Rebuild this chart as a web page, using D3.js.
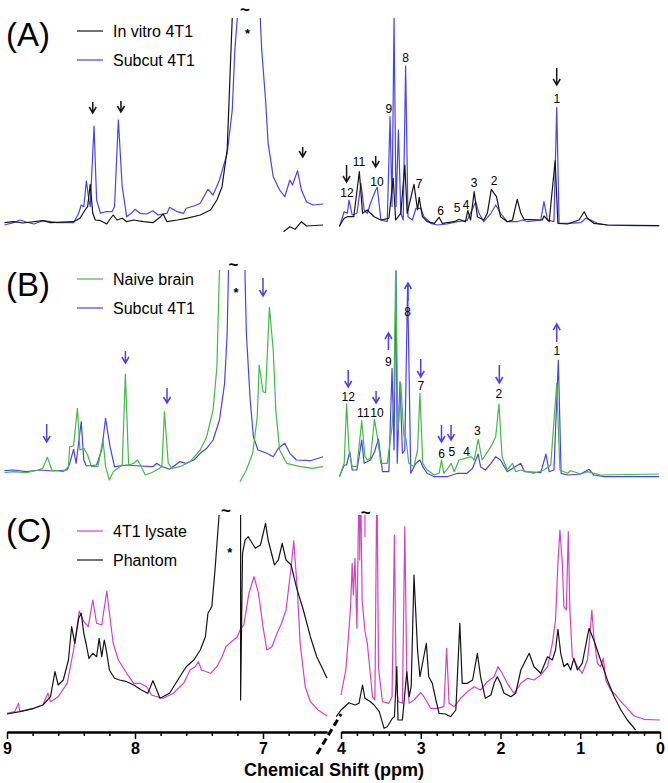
<!DOCTYPE html>
<html>
<head>
<meta charset="utf-8">
<script src="https://cdn.jsdelivr.net/npm/d3@7"></script>
<style>
  body { margin: 0; background: #fff; }
  svg { display: block; font-family: "Liberation Sans", Arial, Helvetica, sans-serif; }
</style>
</head>
<body>
<div id="chart"></div>
<script>
// ---- data: [ppm, intensity], null breaks a trace ----
const vitroA = [[9.02,3.3],[8.95,4.3],[8.875,3],[8.72,5.3],[8.66,3.3],[8.48,4.3],[8.43,7.7],[8.39,16],[8.37,19.3],[8.35,41.7],[8.33,12.7],[8.31,6],[8.27,5.3],[8.22,2],[8.20,6],[8.17,11],[8.14,6],[8.10,7.7],[8.065,4.3],[8.01,6],[7.935,4.3],[7.86,3.3],[7.80,9.3],[7.78,12],[7.75,4.3],[7.67,6],[7.60,7.7],[7.49,11],[7.41,16],[7.36,26],[7.32,39.3],[7.28,76],[7.26,142.7],[7.24,209],[7.235,260],
  null,[6.84,-5.7],[6.79,-0.7],[6.75,-3.3],[6.70,4.3],[6.66,0],[6.53,1],
  null,[4.02,0],[3.96,7.7],[3.92,9.3],[3.84,9.3],[3.77,54.3],[3.73,12.7],[3.67,16],[3.63,12.7],[3.585,9.3],[3.50,6],[3.40,7.7],[3.345,47.7],[3.315,6],[3.25,12.7],[3.20,61],[3.17,12.7],[3.085,41.7],[3.04,16],[3.02,28.7],[2.98,9.3],[2.92,4.3],[2.83,2.7],[2.77,8.7],[2.73,2.7],[2.58,4.3],[2.52,6.7],[2.44,4.3],[2.41,15.3],[2.375,6],[2.33,34.3],[2.29,9.3],[2.21,6],[2.165,12.7],[2.115,36.7],[2.08,32.7],[2.05,29.3],[2.00,9.3],[1.915,4.3],[1.85,6],[1.79,26.7],[1.745,12.7],[1.705,6.7],[1.475,6],[1.455,10],[1.39,4.3],[1.315,65.3],[1.28,2.7],[1.16,2],[1.015,6],[0.95,14.3],[0.91,7.7],[0.83,2.7],[0.66,1],[0.01,0.3]];

const subcutA = [[9.02,1],[8.95,3.3],[8.90,6],[8.85,4],[8.79,2],[8.72,5.3],[8.66,4.3],[8.61,3.3],[8.48,3.3],[8.44,12.7],[8.42,21],[8.40,19.3],[8.38,45],[8.36,26],[8.35,19.3],[8.32,100],[8.30,26],[8.27,12.7],[8.23,14.3],[8.18,14.3],[8.16,19.3],[8.13,106],[8.10,39.3],[8.065,9.3],[8.03,12.7],[8.00,16.7],[7.96,12.7],[7.91,12],[7.86,15.3],[7.82,11],[7.75,12.7],[7.73,18.7],[7.67,14.3],[7.62,12.7],[7.60,17.7],[7.54,20],[7.49,22.7],[7.43,36.7],[7.39,31],[7.34,46],[7.28,72.7],[7.24,116],[7.22,176],[7.20,209],[7.19,260],[7.03,260],[7.02,204],[7.01,176],[6.98,126],[6.96,82.7],[6.92,49.3],[6.87,36],[6.83,29.3],[6.79,46],[6.77,41],[6.73,55.3],[6.70,36],[6.66,24.3],[6.61,21],[6.53,22],
  null,[4.02,-0.7],[3.96,14.3],[3.92,12.7],[3.90,26],[3.86,11],[3.80,12.7],[3.75,42.7],[3.71,16],[3.67,12.7],[3.63,22.7],[3.565,36],[3.545,38.7],[3.50,6],[3.42,4.3],[3.385,109.3],[3.36,19.3],[3.335,207.7],[3.31,19.3],[3.28,96],[3.25,12.7],[3.22,6],[3.19,160],[3.16,9.3],[3.105,6],[3.06,17.7],[3.00,17.7],[2.96,9.3],[2.875,2.7],[2.79,1],[2.67,2],[2.54,4.3],[2.42,5.3],[2.31,24.3],[2.27,12.7],[2.21,4.3],[2.12,12.7],[2.06,21],[2.00,12.7],[1.915,4.3],[1.79,4.3],[1.725,6],[1.66,4.3],[1.495,6],[1.455,24.3],[1.41,6],[1.33,4.3],[1.295,118.7],[1.265,2.7],[1.16,2.7],[0.995,3.3],[0.93,7.7],[0.87,6],[0.785,2.7],[0.66,1],[0.33,0.3],[0.01,0.3]];

const brainB = [[9.02,3.3],[8.95,4.3],[8.85,3.3],[8.755,6],[8.72,7.7],[8.685,18.7],[8.65,6],[8.56,4.3],[8.52,9.3],[8.51,29.3],[8.48,30],[8.45,67.7],[8.43,26],[8.40,27.7],[8.37,21],[8.34,9.3],[8.29,9.3],[8.25,36.7],[8.23,9.3],[8.20,-4],[8.17,4.3],[8.10,11],[8.075,102],[8.05,11],[8.01,12.7],[7.98,16],[7.95,9.3],[7.92,1],[7.88,2.7],[7.83,6],[7.79,9.3],[7.77,64.3],[7.74,12.7],[7.71,7.7],[7.65,9.3],[7.57,14.3],[7.49,26],[7.44,39.3],[7.39,66],[7.36,109.3],[7.35,159.3],[7.34,206],[7.335,260],
  null,[7.18,-5.7],[7.13,6],[7.08,22.7],[7.045,59.3],[7.03,111],[7.00,84.3],[6.98,83.3],[6.95,168.7],[6.92,126],[6.90,66],[6.87,26],[6.815,12.7],[6.71,9.3],[6.61,7.7],[6.53,9.3],
  null,[4.02,-0.7],[3.96,12.7],[3.93,72],[3.90,26],[3.86,9.3],[3.80,9.3],[3.74,55.3],[3.70,19.3],[3.67,16],[3.63,17.7],[3.58,56.7],[3.545,39.3],[3.50,12.7],[3.42,12.7],[3.36,49.3],[3.335,86],[3.315,204.3],[3.285,46],[3.25,92.7],[3.21,39.3],[3.185,37.7],[3.15,12.7],[3.085,9.3],[3.04,26],[3.01,82.7],[2.975,12.7],[2.92,6],[2.83,1],[2.77,2.7],[2.74,16],[2.71,2.7],[2.645,9.3],[2.62,12.7],[2.58,4.3],[2.52,16],[2.44,17.7],[2.37,19.3],[2.33,16],[2.28,36.7],[2.23,16],[2.12,29.3],[2.06,39.3],[2.02,72],[1.98,19.3],[1.915,6],[1.85,12.7],[1.81,4.3],[1.745,6],[1.58,2.7],[1.455,6],[1.37,11],[1.295,92.7],[1.255,6],[1.16,2.7],[1.12,5.3],[0.995,2],[0.91,4.3],[0.745,1],[0.01,2]];

const subcutB = [[9.02,5.3],[8.95,6],[8.85,4.3],[8.74,6],[8.64,5],[8.53,6],[8.51,12.7],[8.48,26.7],[8.46,12.7],[8.42,54.3],[8.40,16],[8.38,10],[8.30,11],[8.26,26],[8.23,57.7],[8.195,29.3],[8.16,9.3],[8.065,11],[7.96,10],[7.86,9.3],[7.83,12.7],[7.80,10],[7.73,6.7],[7.65,14.3],[7.60,12.7],[7.54,16],[7.49,22.7],[7.44,27.7],[7.39,36],[7.34,56],[7.30,92.7],[7.28,142.7],[7.27,204.3],[7.265,260],[7.145,260],[7.14,197.7],[7.13,142.7],[7.10,76],[7.075,39.3],[7.04,26],[6.97,22.7],[6.92,19.3],[6.88,27.7],[6.83,32.7],[6.79,22.7],[6.74,16],[6.63,15.3],[6.53,19.3],
  null,[4.02,-0.7],[3.96,11],[3.93,11],[3.89,24.3],[3.86,6],[3.80,6],[3.74,36],[3.71,12.7],[3.63,16],[3.58,24.3],[3.53,37],[3.48,4.3],[3.40,4.3],[3.36,107.7],[3.335,26],[3.31,205.3],[3.295,12.7],[3.26,94.3],[3.23,22.7],[3.20,26],[3.165,191],[3.125,2.7],[3.06,12.7],[3.01,16],[2.975,9.3],[2.92,2.7],[2.83,-0.7],[2.67,-0.7],[2.54,2.7],[2.42,2.7],[2.35,7.7],[2.28,22],[2.25,9.3],[2.19,6],[2.12,12.7],[2.06,19.3],[2.00,16],[1.915,4.3],[1.745,12.7],[1.70,4.3],[1.495,3.3],[1.43,22],[1.39,4.3],[1.33,6],[1.275,116],[1.24,2.7],[1.16,1],[0.995,2],[0.89,6.7],[0.83,1],[0.70,-0.7],[0.01,-0.7]];

const lysateC = [[9.00,17.7],[8.94,19.3],[8.91,27.7],[8.90,19.3],[8.79,22.7],[8.72,26],[8.68,37.7],[8.66,29.3],[8.60,34.3],[8.53,47.7],[8.48,81],[8.435,120],[8.40,109.3],[8.365,104.3],[8.33,131],[8.30,107.7],[8.26,106],[8.22,140],[8.19,107.7],[8.17,87.7],[8.13,71],[8.065,57.7],[8.01,47.7],[7.96,47.7],[7.91,44.3],[7.87,36],[7.83,34.3],[7.78,32.7],[7.70,37.7],[7.62,47.7],[7.57,61],[7.53,64.3],[7.505,69.3],[7.48,61],[7.41,57.7],[7.36,64.3],[7.32,74.3],[7.29,84.3],[7.26,87.7],[7.23,91],[7.20,94.3],[7.18,101],[7.15,106],[7.11,137.7],[7.07,154.3],[7.035,137.7],[7.00,104.3],[6.97,81],[6.93,84.3],[6.89,97.7],[6.855,107.7],[6.82,121],[6.78,164.3],[6.76,190.3],[6.73,137.7],[6.71,87.7],[6.67,44.3],[6.63,29.3],[6.57,21],[6.50,15],
  null,[4.00,36],[3.94,61],[3.91,91],[3.88,124.3],[3.86,167.7],[3.845,136],[3.825,172.7],[3.80,102.7],[3.785,191],[3.77,260],[3.765,171],[3.755,260],[3.735,131],[3.70,100],[3.67,87.7],[3.605,34.3],[3.575,31],[3.55,260],[3.53,63],[3.48,29.3],[3.40,27.7],[3.36,34.3],[3.33,196],[3.31,54.3],[3.285,29.3],[3.23,27.7],[3.20,204.3],[3.175,54.3],[3.145,27.7],[3.085,31],[3.00,38.3],[2.96,34.3],[2.875,22.7],[2.79,22.7],[2.71,24.3],[2.675,82.7],[2.645,27.7],[2.58,24.3],[2.50,32.7],[2.415,39.3],[2.33,44.3],[2.25,41],[2.165,49.3],[2.08,54.3],[2.03,64.3],[1.98,57.7],[1.915,47.7],[1.83,37.7],[1.745,47.7],[1.66,52.7],[1.58,51],[1.495,56],[1.41,64.3],[1.35,87.7],[1.31,111],[1.28,167.7],[1.255,201],[1.225,167.7],[1.205,124.3],[1.175,121],[1.15,199.3],[1.13,121],[1.10,74.3],[1.035,64.3],[0.975,57.7],[0.91,71],[0.88,94.3],[0.855,121],[0.83,94.3],[0.785,67.7],[0.745,64.3],[0.71,72.7],[0.68,51],[0.62,41],[0.555,36],[0.49,29.3],[0.41,22.7],[0.325,15],[0.20,11.7],[0.00,11],
  null,[3.70,260],[3.70,194]];

const phantomC = [[9.00,17],[8.90,19.3],[8.79,22.7],[8.72,26],[8.66,34.3],[8.625,59.3],[8.60,46],[8.56,51],[8.52,71],[8.495,104.3],[8.47,87.7],[8.44,112.7],[8.42,117.7],[8.40,97.7],[8.38,86],[8.36,72.7],[8.33,77.7],[8.30,74.3],[8.28,92.7],[8.26,74.3],[8.24,91],[8.22,77.7],[8.20,61],[8.16,52.7],[8.12,51],[8.065,49.3],[8.01,46],[7.95,41],[7.90,37.7],[7.86,50.3],[7.83,41],[7.805,32.7],[7.73,37.7],[7.65,54.3],[7.60,64.3],[7.54,71],[7.49,81],[7.45,94.3],[7.43,117.7],[7.40,124.3],[7.375,161],[7.35,204.3],[7.34,221],[7.335,260],[7.175,260],[7.175,31],[7.16,177.7],[7.14,191],[7.115,194.3],[7.06,182.7],[7.02,186],[6.98,207.7],[6.96,191],[6.91,166],[6.88,171],[6.85,187.7],[6.82,171],[6.78,166],[6.74,144.3],[6.685,121],[6.63,94.3],[6.58,74.3],[6.53,61],[6.50,52.7],
  null,[4.06,14.3],[4.00,21],[3.90,28.3],[3.825,26],[3.775,27.7],[3.73,46],[3.70,32.7],[3.63,29.3],[3.585,26],[3.52,19.3],[3.46,2.7],[3.42,4.3],[3.355,12.7],[3.33,14.3],[3.30,64.3],[3.285,11],[3.23,11],[3.175,59.3],[3.145,34.3],[3.12,44.3],[3.085,156],[3.04,81],[3.01,54.3],[2.97,71],[2.93,87.7],[2.90,54.3],[2.855,47.7],[2.81,31],[2.77,17.7],[2.69,17],[2.625,14.3],[2.56,21],[2.51,107.7],[2.48,47.7],[2.415,47.7],[2.35,51],[2.29,77.7],[2.25,54.3],[2.19,32.7],[2.12,36],[2.08,47.7],[2.04,54.3],[2.00,47.7],[1.955,37.7],[1.87,34.3],[1.81,37.7],[1.745,61],[1.64,77.7],[1.58,64.3],[1.495,57.7],[1.41,74.3],[1.35,71],[1.31,81],[1.28,101.7],[1.245,77.7],[1.205,64.3],[1.16,67.7],[1.12,61],[1.08,72.7],[1.035,61],[0.975,67.7],[0.89,102.7],[0.83,91],[0.745,71],[0.66,51],[0.575,34.3],[0.49,21],[0.41,11],[0.305,1]];

// peak numbers [text, ppm, intensity]
const peaksA = [["12",3.925,33],["11",3.775,64],["10",3.55,44],["9",3.40,117],["8",3.19,168],["7",3.02,42],["6",2.75,15],["5",2.545,18],["4",2.43,21],["3",2.33,43],["2",2.08,45],["1",1.295,127]];
const peaksB = [["12",3.91,79],["11",3.72,63],["10",3.55,63],["9",3.405,114],["8",3.165,164],["7",3.00,90],["6",2.74,22],["5",2.61,24],["4",2.425,24],["3",2.29,45],["2",2.02,82],["1",1.295,125]];

// arrows [ppm, tip intensity, length, direction]
const arrowsA = [[8.33,113,11,"down"],[8.11,114,11,"down"],[6.69,69,10,"down"],[3.93,44,17,"down"],[3.565,59,11,"down"],[1.295,141,17,"down"]];
const arrowsB = [[8.69,34,18,"down"],[8.075,113,12,"down"],[7.75,73,15,"down"],[7.00,180,18,"down"],[3.91,89,17,"down"],[3.56,73,12,"down"],[3.405,143,17,"up"],[3.16,193,18,"up"],[3.00,99,18,"down"],[2.74,34,17,"down"],[2.62,36,15,"down"],[2.015,93,18,"down"],[1.295,152,18,"up"]];

// off-scale marks [text, ppm, intensity]
const marksA = [["~",7.14,217],["*",7.12,193]];
const marksB = [["~",7.23,212],["*",7.21,184]];
const marksC = [["~",7.29,221],["*",7.26,179],["~",3.69,219]];

// axis ticks
const leftMajor = [9, 8, 7];
const leftMinor = [8.8, 8.6, 8.4, 8.2, 7.8, 7.6, 7.4, 7.2, 6.8, 6.6];
const rightMajor = [4, 3, 2, 1, 0];
const rightMinor = [3.8, 3.6, 3.4, 3.2, 2.8, 2.6, 2.4, 2.2, 1.8, 1.6, 1.4, 1.2, 0.8, 0.6, 0.4, 0.2];

// ---- chart ----
const width = 668, height = 783;
const axisY = 732;
const black = "#151515", blue = "#4b44e4", green = "#45b84a", magenta = "#d442c2";

const xL = d3.scaleLinear().domain([9, 6.5]).range([7, 327]);
const xR = d3.scaleLinear().domain([4, 0]).range([341, 660]);
const xOf = p => p > 5 ? xL(p) : xR(p);

const panels = [
  { label: "(A)", labelY: 46, base: 226, top: 18, legendY: [31, 60],
    series: [{ name: "In vitro 4T1", data: vitroA, color: black }, { name: "Subcut 4T1", data: subcutA, color: blue }],
    drawOrder: [1, 0], peaks: peaksA, arrows: arrowsA, arrowColor: black, marks: marksA },
  { label: "(B)", labelY: 296, base: 476, top: 270, legendY: [279, 308],
    series: [{ name: "Naive brain", data: brainB, color: green }, { name: "Subcut 4T1", data: subcutB, color: blue }],
    drawOrder: [1, 0], peaks: peaksB, arrows: arrowsB, arrowColor: blue, marks: marksB },
  { label: "(C)", labelY: 542, base: 731, top: 515, legendY: [531, 560],
    series: [{ name: "4T1 lysate", data: lysateC, color: magenta }, { name: "Phantom", data: phantomC, color: black }],
    drawOrder: [0, 1], peaks: [], arrows: [], arrowColor: black, marks: marksC }
];

const svg = d3.select("#chart").append("svg")
  .attr("width", width)
  .attr("height", height)
  .attr("viewBox", [0, 0, width, height]);

const defs = svg.append("defs");

panels.forEach((p, pi) => {
  // 1 intensity unit = 1 px above the panel baseline
  const y = d3.scaleLinear().domain([0, 100]).range([p.base, p.base - 100]);
  const g = svg.append("g");

  defs.append("clipPath").attr("id", "clip" + pi)
    .append("rect").attr("x", 0).attr("y", p.top).attr("width", width).attr("height", p.base - p.top + 20);

  const line = d3.line()
    .defined(d => d)
    .x(d => xOf(d[0]))
    .y(d => y(d[1]));

  p.drawOrder.forEach(i => {
    const s = p.series[i];
    g.append("path")
      .attr("clip-path", `url(#clip${pi})`)
      .attr("fill", "none")
      .attr("stroke", s.color)
      .attr("stroke-width", 1.2)
      .attr("stroke-linejoin", "round")
      .attr("d", line(s.data));
  });

  // panel letter
  g.append("text")
    .attr("x", 6)
    .attr("y", p.labelY)
    .style("font-size", "33px")
    .text(p.label);

  // legend
  const lg = g.selectAll(".legend").data(p.series).join("g")
    .attr("transform", (d, i) => `translate(0,${p.legendY[i]})`);
  lg.append("line")
    .attr("x1", 77).attr("x2", 103)
    .attr("stroke", d => d.color).attr("stroke-width", 1.2);
  lg.append("text")
    .attr("x", 113).attr("dy", "0.35em")
    .style("font-size", "16px")
    .text(d => d.name);

  // peak numbers
  g.selectAll(".peak").data(p.peaks).join("text")
    .attr("x", d => xOf(d[1]))
    .attr("y", d => y(d[2]))
    .attr("dy", "0.35em")
    .attr("text-anchor", "middle")
    .attr("fill", "#000")
    .style("font-size", "12px")
    .text(d => d[0]);

  // arrows
  g.selectAll(".arrow").data(p.arrows).join("path")
    .attr("fill", "none")
    .attr("stroke", p.arrowColor)
    .attr("stroke-width", 1.5)
    .attr("d", d => {
      const x = xOf(d[0]), tip = y(d[1]);
      const s = d[3] === "down" ? -1 : 1;   // direction from tip back to tail
      const tail = tip + s * d[2];
      return `M${x},${tail}L${x},${tip}M${x - 3.5},${tip + s * 6}L${x},${tip}L${x + 3.5},${tip + s * 6}`;
    });

  // off-scale marks
  g.selectAll(".mark").data(p.marks).join("text")
    .attr("x", d => xOf(d[1]))
    .attr("y", d => y(d[2]))
    .attr("dy", "0.35em")
    .attr("text-anchor", "middle")
    .style("font-size", d => d[0] === "~" ? "17px" : "13px")
    .style("font-weight", "bold")
    .text(d => d[0]);
});

// ---- broken x axis ----
function drawAxis(scale, majors, minors) {
  const gMin = svg.append("g").attr("transform", `translate(0,${axisY})`)
    .call(d3.axisBottom(scale).tickValues(minors).tickSize(4).tickSizeOuter(0).tickFormat(""));
  const gMaj = svg.append("g").attr("transform", `translate(0,${axisY})`)
    .call(d3.axisBottom(scale).tickValues(majors).tickSize(7).tickSizeOuter(0).tickPadding(4).tickFormat(d3.format("d")));
  [gMin, gMaj].forEach(a => {
    a.select(".domain").attr("stroke", "#000").attr("stroke-width", 2);
    a.selectAll(".tick line").attr("stroke", "#000").attr("stroke-width", 1.5);
  });
  gMaj.selectAll(".tick text")
    .attr("fill", "#000")
    .style("font-family", "'Liberation Sans', Arial, sans-serif")
    .style("font-size", "16px")
    .style("font-weight", "bold");
}
drawAxis(xL, leftMajor, leftMinor);
drawAxis(xR, rightMajor, rightMinor);

// axis break mark
const bx = (xL.range()[1] + xR.range()[0]) / 2 - 5;
svg.append("line")
  .attr("x1", bx - 12).attr("y1", axisY + 22)
  .attr("x2", bx + 12).attr("y2", axisY - 18)
  .attr("stroke", "#000")
  .attr("stroke-width", 3)
  .attr("stroke-dasharray", "7,4");

svg.append("text")
  .attr("x", 334)
  .attr("y", 776)
  .attr("text-anchor", "middle")
  .style("font-size", "18px")
  .style("font-weight", "bold")
  .text("Chemical Shift (ppm)");
</script>
</body>
</html>
